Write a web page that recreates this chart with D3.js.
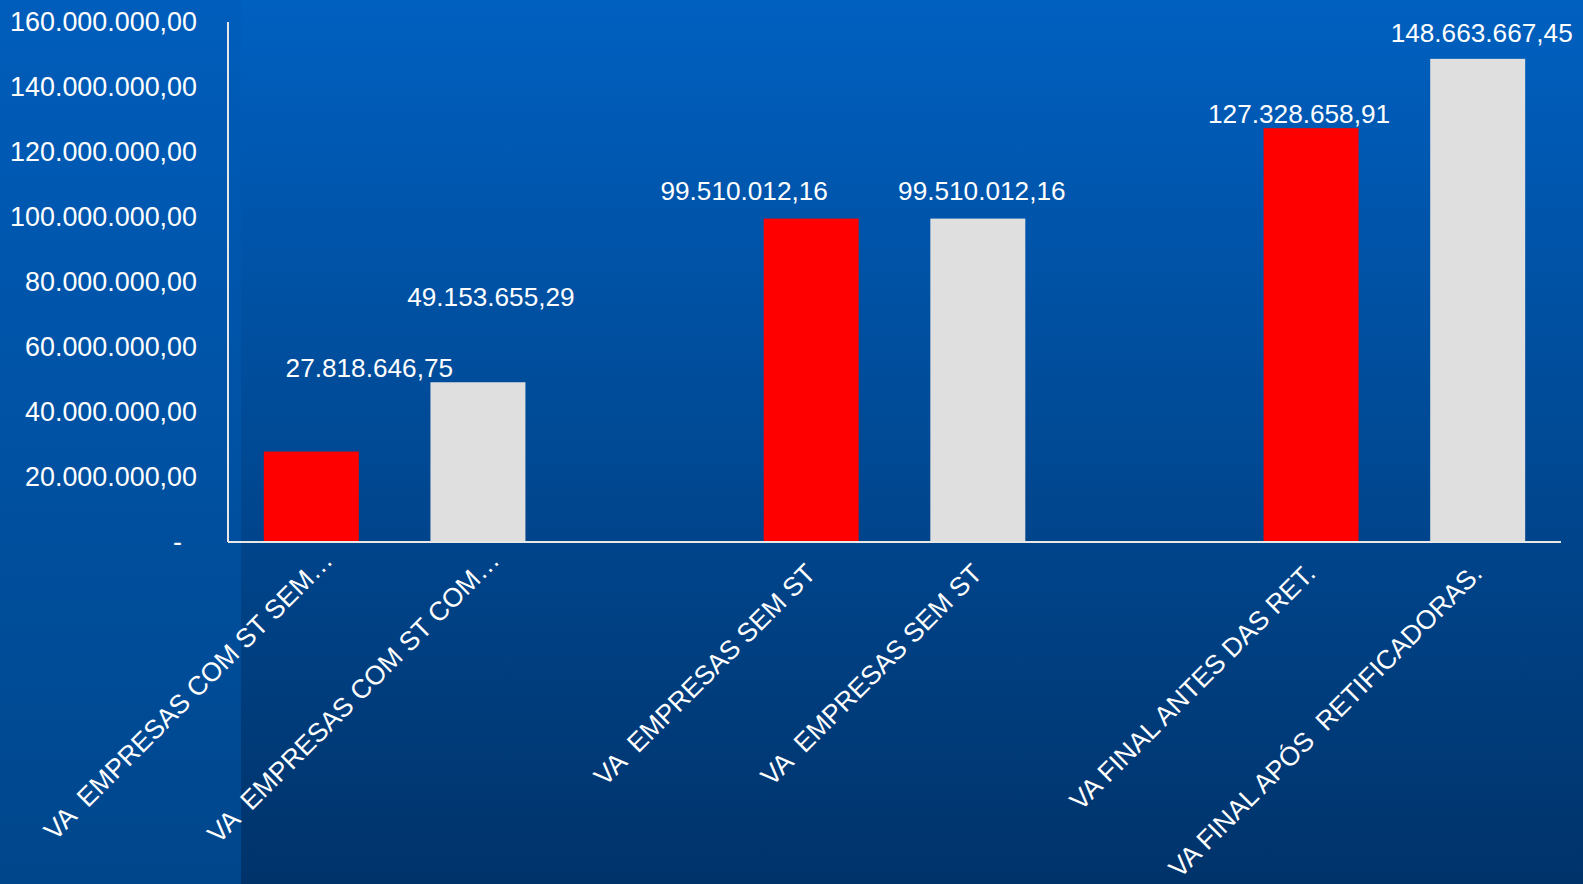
<!DOCTYPE html>
<html>
<head>
<meta charset="utf-8">
<script src="https://cdn.jsdelivr.net/npm/d3@7"></script>
<style>
  body { margin: 0; overflow: hidden; }
  text { font-family: "Liberation Sans", Arial, sans-serif; fill: #ffffff; }
</style>
</head>
<body>
<script>
// VA comparison chart

var categories = [
  "VA  EMPRESAS COM ST SEM…",
  "VA  EMPRESAS COM ST COM…",
  "",
  "VA  EMPRESAS SEM ST",
  "VA  EMPRESAS SEM ST",
  "",
  "VA FINAL ANTES DAS RET.",
  "VA FINAL APÓS  RETIFICADORAS."
];
var values = [27818646.75, 49153655.29, null, 99510012.16, 99510012.16, null, 127328658.91, 148663667.45];
var yTicks = [0, 20000000, 40000000, 60000000, 80000000, 100000000, 120000000, 140000000, 160000000];

// label placement as moved by hand in the original (pixels, relative to bar top centre)
var labelNudge = [[58, -75], [13, -76], null, [-67, -19], [4, -19], null, [-12, -5], [4, -17]];

var svgWidth = 1583;
var svgHeight = 884;

var margin = { top: 22, right: 22, bottom: 342, left: 228 };
var chartWidth = svgWidth - margin.left - margin.right;
var chartHeight = svgHeight - margin.top - margin.bottom;

var br = d3.formatLocale({ decimal: ",", thousands: ".", grouping: [3], currency: ["R$", ""] });
var fmt = br.format(",.2f");

var svg = d3.select("body")
  .append("svg")
  .attr("width", svgWidth)
  .attr("height", svgHeight);

var defs = svg.append("defs");
var g1 = defs.append("linearGradient").attr("id", "bgMain").attr("x1", 0).attr("y1", 0).attr("x2", 0).attr("y2", 1);
g1.append("stop").attr("offset", "0%").attr("stop-color", "#0060c0");
g1.append("stop").attr("offset", "100%").attr("stop-color", "#00336a");
var g2 = defs.append("linearGradient").attr("id", "bgLeft").attr("x1", 0).attr("y1", 0).attr("x2", 0).attr("y2", 1);
g2.append("stop").attr("offset", "0%").attr("stop-color", "#005dbb");
g2.append("stop").attr("offset", "100%").attr("stop-color", "#00468b");

svg.append("rect").attr("width", svgWidth).attr("height", svgHeight).attr("fill", "url(#bgMain)");
svg.append("rect").attr("width", 241).attr("height", svgHeight).attr("fill", "url(#bgLeft)");

var chartGroup = svg.append("g")
  .attr("transform", `translate(${margin.left}, ${margin.top})`);

var xBandScale = d3.scaleBand()
  .domain(d3.range(categories.length))
  .range([0, chartWidth])
  .paddingInner(0.43)
  .paddingOuter(0.215);

var yLinearScale = d3.scaleLinear()
  .domain([0, 160000000])
  .range([chartHeight, 0]);

var barColor = function (i) { return i % 3 === 0 ? "#ff0000" : "#dfdfdf"; };

// bars
chartGroup.selectAll(".bar")
  .data(values.map((v, i) => ({ v: v, i: i })).filter(d => d.v !== null))
  .enter()
  .append("rect")
  .attr("class", "bar")
  .attr("x", d => xBandScale(d.i))
  .attr("y", d => yLinearScale(d.v))
  .attr("width", xBandScale.bandwidth())
  .attr("height", d => chartHeight - yLinearScale(d.v))
  .attr("fill", d => barColor(d.i));

// value labels
values.forEach(function (v, i) {
  if (v === null) return;
  var cx = xBandScale(i) + xBandScale.bandwidth() / 2;
  chartGroup.append("text")
    .attr("x", cx + labelNudge[i][0])
    .attr("y", yLinearScale(v) + labelNudge[i][1])
    .attr("text-anchor", "middle")
    .style("font-size", "26.2px")
    .text(fmt(v));
});

// left axis
var leftAxis = d3.axisLeft(yLinearScale)
  .tickValues(yTicks)
  .tickSize(0)
  .tickPadding(31)
  .tickFormat(d => d === 0 ? "-  " : fmt(d));

var yAxisG = chartGroup.append("g").call(leftAxis);
yAxisG.select(".domain").remove();
yAxisG.selectAll("text")
  .style("font-size", "26.9px")
  .style("font-family", "\"Liberation Sans\", Arial, sans-serif")
  .style("white-space", "pre")
  .attr("fill", "#ffffff");

chartGroup.append("line")
  .attr("x1", 0).attr("x2", 0)
  .attr("y1", 0).attr("y2", chartHeight)
  .attr("stroke", "#e8e8e8")
  .attr("stroke-width", 2);

// bottom axis line
chartGroup.append("line")
  .attr("x1", 0).attr("x2", chartWidth)
  .attr("y1", chartHeight).attr("y2", chartHeight)
  .attr("stroke", "#e8e8e8")
  .attr("stroke-width", 2);

// category labels, rotated
categories.forEach(function (c, i) {
  if (!c) return;
  var cx = xBandScale(i) + xBandScale.bandwidth() / 2;
  // truncated labels sit further along their baseline
  var shift = c.endsWith("…") ? 24 : 0;
  var ex = cx + 6 + shift * Math.SQRT1_2;
  var ey = chartHeight + 33 - shift * Math.SQRT1_2 + (shift ? 4 : 0);
  chartGroup.append("text")
    .attr("transform", `translate(${ex}, ${ey}) rotate(-45)`)
    .attr("text-anchor", "end")
    .style("font-size", "26.5px")
    .style("white-space", "pre")
    .text(c);
});
</script>
</body>
</html>
